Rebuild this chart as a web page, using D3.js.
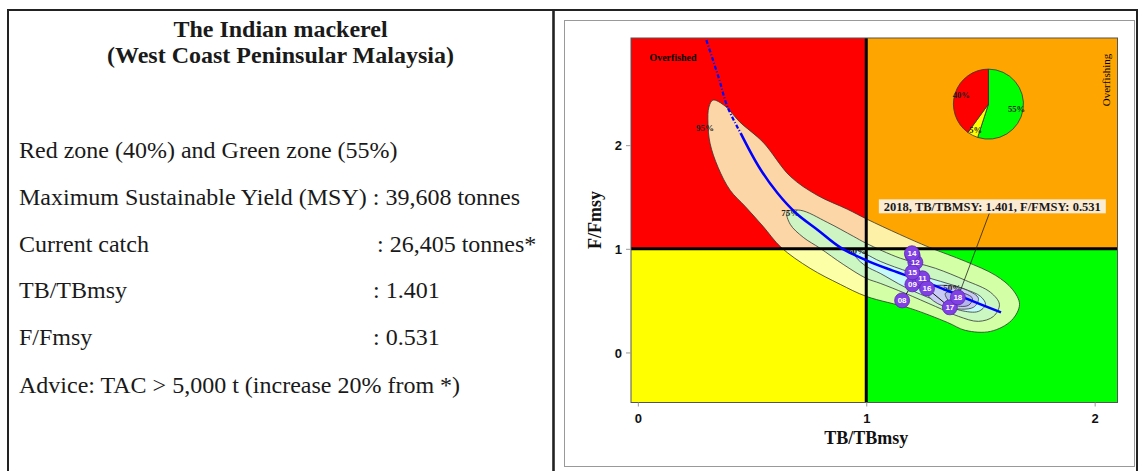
<!DOCTYPE html>
<html>
<head>
<meta charset="utf-8">
<script src="https://cdn.jsdelivr.net/npm/d3@7"></script>
<style>
  body { margin: 0; background: #fff; }
  svg { display: block; }
</style>
</head>
<body>
<svg id="chart" width="1138" height="471"></svg>
<script>
// ---------- data ----------
const titleLines = ["The Indian mackerel", "(West Coast Peninsular Malaysia)"];
const infoLabels = [
    "Red zone (40%) and Green zone (55%)",
    "Maximum Sustainable Yield (MSY)",
    "Current catch",
    "TB/TBmsy",
    "F/Fmsy",
    "Advice: TAC > 5,000 t (increase 20% from *)"
];
const infoValues = ["", ": 39,608 tonnes", ": 26,405 tonnes*", ": 1.401", ": 0.531", ""];

// axes
const xTicks = [0, 1, 2];
const yTicks = [0, 1, 2];
const xDomain = [-0.03, 2.10];
const yDomain = [-0.483, 3.034];
const refPoint = 1;

// equilibrium curve (blue)
const curveTB = [0.300, 0.353, 0.393, 0.450, 0.531, 0.612, 0.693, 0.789, 0.886, 1.000, 1.113, 1.275, 1.436, 1.590];
const curveF  = [3.014, 2.657, 2.367, 2.116, 1.787, 1.536, 1.343, 1.179, 1.014, 0.889, 0.792, 0.667, 0.522, 0.386];
const curveDashedUpTo = 3; // first points are drawn broken

// stock trajectory (10 and 13 sit under their neighbours)
const years  = ["08", "09", "10", "11", "12", "13", "14", "15", "16", "17", "18"];
const trajTB = [1.157, 1.202, 1.236, 1.246, 1.215, 1.203, 1.200, 1.202, 1.266, 1.366, 1.401];
const trajF  = [0.502, 0.657, 0.700, 0.715, 0.870, 0.935, 0.957, 0.773, 0.618, 0.435, 0.531];
const coveredYears = ["10", "13"];

// density contours (TB/TBmsy, F/Fmsy)
const contour95 = [[0.329,2.435],[0.382,2.377],[0.447,2.222],[0.548,2.029],[0.667,1.700],[0.785,1.517],[0.917,1.382],[1.004,1.285],[1.145,1.140],[1.276,1.014],[1.434,0.879],[1.566,0.744],[1.640,0.609],[1.671,0.464],[1.636,0.309],[1.544,0.203],[1.434,0.213],[1.355,0.290],[1.193,0.425],[1.000,0.541],[0.886,0.657],[0.754,0.812],[0.627,1.014],[0.548,1.217],[0.469,1.411],[0.404,1.565],[0.351,1.787],[0.316,2.019],[0.307,2.213],[0.311,2.367]];
const contour75 = [[0.654,1.353],[0.711,1.372],[0.829,1.256],[0.943,1.121],[1.000,1.053],[1.149,0.909],[1.303,0.812],[1.434,0.696],[1.544,0.580],[1.583,0.464],[1.557,0.348],[1.491,0.300],[1.404,0.348],[1.303,0.444],[1.171,0.570],[1.061,0.667],[1.000,0.715],[0.899,0.850],[0.798,1.005],[0.724,1.111],[0.667,1.237]];
const contour60 = [[0.943,0.995],[1.000,0.947],[1.061,0.879],[1.193,0.773],[1.325,0.686],[1.434,0.609],[1.500,0.541],[1.522,0.464],[1.491,0.396],[1.412,0.406],[1.303,0.502],[1.171,0.628],[1.061,0.763],[1.000,0.831],[0.956,0.918]];
const contour50 = [[1.259,0.618],[1.355,0.647],[1.443,0.599],[1.491,0.522],[1.469,0.435],[1.355,0.435],[1.281,0.522]];
const contourCore = [[1.346,0.570],[1.412,0.580],[1.465,0.522],[1.447,0.454],[1.377,0.464]];
const contourLabels = ["95%", "75%", "60%", "50%"];
const contourLabelTB = [0.294, 0.667, 0.960, 1.377];
const contourLabelF  = [2.164, 1.343, 0.976, 0.618];

// current status annotation
const currentText = "2018, TB/TBMSY: 1.401, F/FMSY: 0.531";
const currentTB = 1.401, currentF = 0.531;
const annotTB = 1.552, annotF = 1.41;

// zone pie
const pieValues = [55, 5, 40];
const pieLabels = ["55%", "5%", "40%"];
const pieCenterTB = 1.535, pieCenterF = 2.396;

// ---------- drawing ----------
const svg = d3.select("#chart");
const serif = "'Liberation Serif', 'Times New Roman', serif";
const sans = "'Liberation Sans', Arial, sans-serif";

drawFrames();
drawInfoPanel();
drawKobe();

function drawFrames() {
    svg.append("rect").attr("width", 1138).attr("height", 471).attr("fill", "#fff");
    // outer black frame
    svg.append("line").attr("x1", 7).attr("x2", 1138).attr("y1", 10).attr("y2", 10)
        .attr("stroke", "#222").attr("stroke-width", 2.2);
    [8, 553.5, 1137].forEach(x => {
        svg.append("line").attr("x1", x).attr("x2", x).attr("y1", 9).attr("y2", 471)
            .attr("stroke", "#222").attr("stroke-width", x == 553.5 ? 2.6 : 2);
    });
    // grey inner box of the figure
    svg.append("rect").attr("x", 564.5).attr("y", 20.5).attr("width", 570).attr("height", 446)
        .attr("fill", "none").attr("stroke", "#999").attr("stroke-width", 1);
}

function drawInfoPanel() {
    const g = svg.append("g");
    g.selectAll("text.title").data(titleLines).enter().append("text")
        .attr("class", "title")
        .attr("x", 280.5).attr("y", (d, i) => 36.5 + i * 26.5)
        .attr("text-anchor", "middle")
        .style("font-family", serif).style("font-weight", "bold").style("font-size", "24px")
        .attr("fill", "#1a1a1a")
        .text(d => d);

    const rowY = [158, 205, 252, 298, 345, 393];
    const valueX = [null, null, 377, 373, 373, null];
    infoLabels.forEach((lab, i) => {
        const t = g.append("text").attr("x", 19).attr("y", rowY[i])
            .style("font-family", serif).style("font-size", "24px").attr("fill", "#1a1a1a");
        if (valueX[i] == null && infoValues[i]) {
            t.text(lab + " " + infoValues[i]);
        } else {
            t.text(lab);
            if (infoValues[i]) {
                g.append("text").attr("x", valueX[i]).attr("y", rowY[i])
                    .style("font-family", serif).style("font-size", "24px").attr("fill", "#1a1a1a")
                    .text(infoValues[i]);
            }
        }
    });
}

function drawKobe() {
    const plot = {left: 631, right: 1117.5, top: 38, bottom: 402.5};
    const x = d3.scaleLinear().domain(xDomain).range([plot.left, plot.right]);
    const y = d3.scaleLinear().domain(yDomain).range([plot.bottom, plot.top]);
    const g = svg.append("g");

    // quadrants
    const quads = [
        {x0: xDomain[0], x1: refPoint, y0: refPoint, y1: yDomain[1], c: "#ff0000"},
        {x0: refPoint, x1: xDomain[1], y0: refPoint, y1: yDomain[1], c: "#ffa500"},
        {x0: xDomain[0], x1: refPoint, y0: yDomain[0], y1: refPoint, c: "#ffff00"},
        {x0: refPoint, x1: xDomain[1], y0: yDomain[0], y1: refPoint, c: "#00ff00"}
    ];
    g.selectAll("rect.quad").data(quads).enter().append("rect")
        .attr("class", "quad")
        .attr("x", d => x(d.x0)).attr("y", d => y(d.y1))
        .attr("width", d => x(d.x1) - x(d.x0)).attr("height", d => y(d.y0) - y(d.y1))
        .attr("fill", d => d.c);

    // contours
    const shape = d3.line().x(d => x(d[0])).y(d => y(d[1])).curve(d3.curveCatmullRomClosed.alpha(0.5));
    const layers = [
        {pts: contour95, fill: "rgb(251,255,198)", op: 0.84},
        {pts: contour75, fill: "#c9f6c4", op: 0.93},
        {pts: contour60, fill: "#c6fafa", op: 1},
        {pts: contour50, fill: "#cacaf6", op: 1},
        {pts: contourCore, fill: "#b6b6ee", op: 1}
    ];
    layers.forEach(l => {
        g.append("path").attr("d", shape(l.pts))
            .attr("fill", l.fill).attr("fill-opacity", l.op)
            .attr("stroke", "#333").attr("stroke-width", 0.8);
    });
    g.selectAll("text.clab").data(contourLabels).enter().append("text")
        .attr("class", "clab")
        .attr("x", (d, i) => x(contourLabelTB[i])).attr("y", (d, i) => y(contourLabelF[i]) + 3)
        .attr("text-anchor", "middle")
        .style("font-family", serif).style("font-weight", "bold").style("font-size", "9px")
        .attr("fill", "#222").text(d => d);

    // reference lines
    g.append("line").attr("x1", x(refPoint)).attr("x2", x(refPoint)).attr("y1", plot.top).attr("y2", plot.bottom)
        .attr("stroke", "#000").attr("stroke-width", 3);
    g.append("line").attr("x1", plot.left).attr("x2", plot.right).attr("y1", y(refPoint)).attr("y2", y(refPoint))
        .attr("stroke", "#000").attr("stroke-width", 3);

    // equilibrium curve
    const curve = curveTB.map((d, i) => [d, curveF[i]]);
    const cl = d3.line().x(d => x(d[0])).y(d => y(d[1])).curve(d3.curveCatmullRom);
    g.append("path").attr("d", cl(curve.slice(0, curveDashedUpTo + 1)))
        .attr("fill", "none").attr("stroke", "#0000ff").attr("stroke-width", 2.2)
        .attr("stroke-dasharray", "4,2,1,2");
    g.append("path").attr("d", cl(curve.slice(curveDashedUpTo)))
        .attr("fill", "none").attr("stroke", "#0000ff").attr("stroke-width", 2.5);

    // zone labels
    g.append("text").attr("x", 673).attr("y", 61).attr("text-anchor", "middle")
        .style("font-family", serif).style("font-weight", "bold").style("font-size", "10px")
        .text("Overfished");
    g.append("text").attr("transform", "translate(1110,80) rotate(-90)").attr("text-anchor", "middle")
        .style("font-family", serif).style("font-size", "11px")
        .text("Overfishing");

    // annotation for the current year
    const ax = x(annotTB), ay = y(annotF);
    g.append("line").attr("x1", ax - 3).attr("y1", ay + 7)
        .attr("x2", x(currentTB)).attr("y2", y(currentF))
        .attr("stroke", "#222").attr("stroke-width", 0.8);
    const box = g.append("rect").attr("fill", "#fcebd3");
    const at = g.append("text").attr("x", ax).attr("y", ay + 4.5).attr("text-anchor", "middle")
        .style("font-family", serif).style("font-weight", "bold").style("font-size", "12.5px")
        .attr("fill", "#1a1a1a").text(currentText);
    const tw = at.node().getComputedTextLength();
    box.attr("x", ax - tw / 2 - 5).attr("y", ay - 7).attr("width", tw + 10).attr("height", 14);

    // trajectory: line, then circles, then year labels on top
    const traj = years.map((yr, i) => ({yr: yr, tb: trajTB[i], f: trajF[i]}));
    g.append("path").attr("d", d3.line().x(d => x(d.tb)).y(d => y(d.f))(traj))
        .attr("fill", "none").attr("stroke", "#111").attr("stroke-width", 1);
    g.selectAll("circle.yr").data(traj).enter().append("circle").attr("class", "yr")
        .attr("cx", d => x(d.tb)).attr("cy", d => y(d.f)).attr("r", 7.5)
        .attr("fill", "#8040e4").attr("stroke", "#5a28b0").attr("stroke-width", 0.8);
    g.selectAll("text.yr").data(traj.filter(d => coveredYears.indexOf(d.yr) < 0)).enter().append("text")
        .attr("class", "yr")
        .attr("x", d => x(d.tb)).attr("y", d => y(d.f) + 3).attr("text-anchor", "middle")
        .style("font-family", sans).style("font-weight", "bold").style("font-size", "8px")
        .attr("fill", "#fff").text(d => d.yr);

    // pie of zone probabilities
    const pcx = x(pieCenterTB), pcy = y(pieCenterF);
    const pie = d3.pie().sort(null)(pieValues);
    const arc = d3.arc().innerRadius(0).outerRadius(35);
    const labArc = d3.arc().innerRadius(28.5).outerRadius(28.5);
    const pieColors = ["#00ff00", "#ffff00", "#ff0000"];
    const pg = g.append("g").attr("transform", `translate(${pcx},${pcy})`);
    pg.selectAll("path").data(pie).enter().append("path")
        .attr("d", arc).attr("fill", (d, i) => pieColors[i])
        .attr("stroke", "#333").attr("stroke-width", 0.8);
    pg.selectAll("text").data(pie).enter().append("text")
        .attr("transform", d => `translate(${labArc.centroid(d)})`)
        .attr("dy", 3).attr("text-anchor", "middle")
        .style("font-family", serif).style("font-weight", "bold").style("font-size", "8.5px")
        .attr("fill", "#222").text((d, i) => pieLabels[i]);

    // plot frame
    g.append("rect").attr("x", plot.left).attr("y", plot.top)
        .attr("width", plot.right - plot.left).attr("height", plot.bottom - plot.top)
        .attr("fill", "none").attr("stroke", "#555").attr("stroke-width", 1);

    // axes
    const xa = g.append("g").attr("transform", `translate(0,${plot.bottom})`)
        .call(d3.axisBottom(x).tickValues(xTicks).tickFormat(d3.format("d")).tickSize(4).tickPadding(7));
    const ya = g.append("g").attr("transform", `translate(${plot.left},0)`)
        .call(d3.axisLeft(y).tickValues(yTicks).tickFormat(d3.format("d")).tickSize(5).tickPadding(4));
    [xa, ya].forEach(a => {
        a.select(".domain").remove();
        a.selectAll(".tick line").attr("stroke", "#999");
        a.selectAll(".tick text").style("font-family", sans).style("font-weight", "bold")
            .style("font-size", "13px").attr("fill", "#111");
    });
    ya.selectAll(".tick text").attr("dy", "0.36em");

    // axis titles
    g.append("text").attr("x", x(refPoint)).attr("y", 444).attr("text-anchor", "middle")
        .style("font-family", serif).style("font-weight", "bold").style("font-size", "18px")
        .attr("fill", "#111").text("TB/TBmsy");
    g.append("text").attr("transform", "translate(601,220) rotate(-90)").attr("text-anchor", "middle")
        .style("font-family", serif).style("font-weight", "bold").style("font-size", "18px")
        .attr("fill", "#111").text("F/Fmsy");
}
</script>
</body>
</html>
